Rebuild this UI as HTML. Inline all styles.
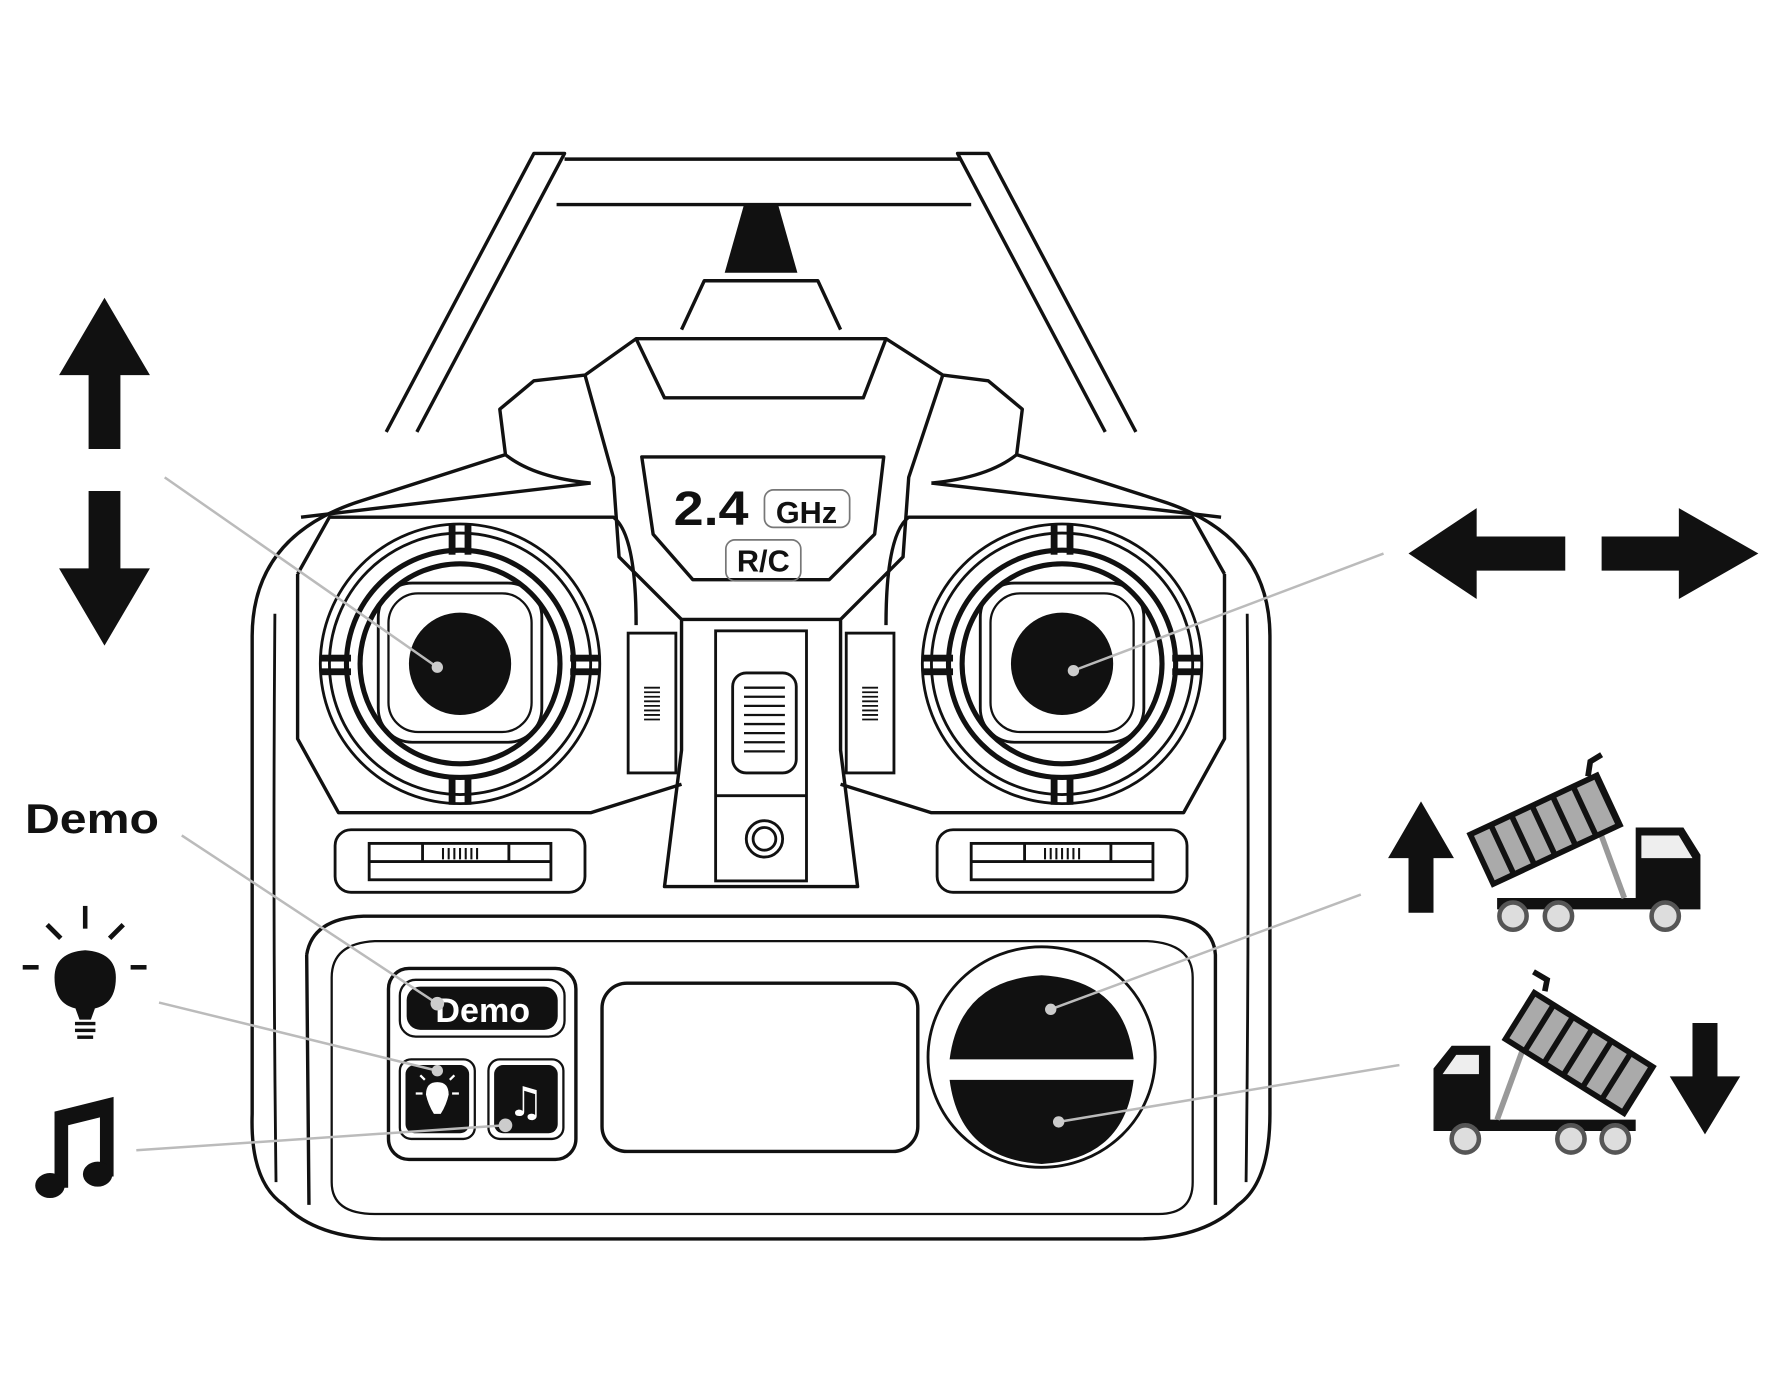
<!DOCTYPE html>
<html><head><meta charset="utf-8"><style>html,body{margin:0;padding:0;background:#fff}svg{display:block}</style></head><body>
<svg width="1772" height="1389" viewBox="0 0 1560 1222" preserveAspectRatio="none" xmlns="http://www.w3.org/2000/svg">
<rect width="1560" height="1222" fill="#fff"/>
<g fill="none" stroke="#111" stroke-width="3" stroke-linejoin="round">
<path d="M340 380 L470 135 L497 135 L367 380"/>
<path d="M1000 380 L870 135 L843 135 L973 380"/>
<path d="M497 140 L845 140 M490 180 L855 180"/>
<path d="M600 290 L620 247 L720 247 L740 290"/>
<path d="M250 1060 Q220 1040 222 980 L222 560 Q222 470 320 440 L445 400 L440 360 L470 335 L515 330 L560 298 L780 298 L830 330 L870 335 L900 360 L895 400 L1020 440 Q1118 470 1118 560 L1118 980 Q1118 1040 1090 1060 Q1060 1090 1000 1090 L340 1090 Q280 1090 250 1060 Z"/>
<path d="M243 1040 Q240 800 242 540" stroke-width="2.5"/>
<path d="M1097 1040 Q1100 800 1098 540" stroke-width="2.5"/>
<path d="M445 400 Q470 420 520 425 M895 400 Q870 420 820 425"/>
<path d="M265 455 L520 425 M1075 455 L820 425"/>
<path d="M515 330 L540 420 L545 490 L600 545 L600 660 L585 780 L755 780 L740 660 L740 545 L795 490 L800 420 L830 330"/>
<path d="M560 298 L585 350 L760 350 L780 298"/>
<path d="M565 402 L778 402 L770 470 L730 510 L610 510 L575 470 Z"/>
<path d="M600 545 L740 545"/>
<path d="M262 505 L290 455 L540 455 Q560 470 560 550 M262 505 L262 650 L298 715 L520 715 L600 690"/>
<path d="M1078 505 L1050 455 L800 455 Q780 470 780 550 M1078 505 L1078 650 L1042 715 L820 715 L740 690"/>
<path d="M270 840 Q275 808 320 806 L1020 806 Q1068 808 1070 840 L1070 1060 M270 840 L272 1060"/>
<path d="M292 860 Q292 830 330 828 L1010 828 Q1050 830 1050 860 L1050 1040 Q1050 1068 1020 1068 L330 1068 Q292 1068 292 1040 Z" stroke-width="2"/>
<rect x="530" y="865" width="278" height="148" rx="22"/>
<rect x="342" y="852" width="165" height="168" rx="18"/>
</g>
<path d="M655 180 L685 180 L702 240 L638 240 Z" fill="#111"/>
<g id="js">
<g fill="none" stroke="#111">
<circle cx="405" cy="584" r="123" stroke-width="2.5"/>
<circle cx="405" cy="584" r="115" stroke-width="2.5"/>
<circle cx="405" cy="584" r="100" stroke-width="4.5"/>
<circle cx="405" cy="584" r="88" stroke-width="4.5"/>
<rect x="333" y="513" width="144" height="140" rx="30" stroke-width="2.5"/>
<rect x="342" y="522" width="126" height="122" rx="26" stroke-width="2"/>
</g>
<rect x="395" y="462" width="6" height="26" fill="#111"/><rect x="409" y="462" width="6" height="26" fill="#111"/>
<rect x="395" y="682" width="6" height="26" fill="#111"/><rect x="409" y="682" width="6" height="26" fill="#111"/>
<rect x="283" y="576" width="26" height="6" fill="#111"/><rect x="283" y="588" width="26" height="6" fill="#111"/>
<rect x="502" y="576" width="26" height="6" fill="#111"/><rect x="502" y="588" width="26" height="6" fill="#111"/>
<circle cx="405" cy="584" r="45" fill="#111"/>
</g>
<use href="#js" transform="translate(530,0)"/>
<g id="tr" fill="none" stroke="#111" stroke-width="2.5">
<rect x="295" y="730" width="220" height="55" rx="14"/>
<rect x="325" y="742" width="160" height="32"/>
<path d="M325 758 L485 758 M372 742 L372 758 M448 742 L448 758"/>
<path d="M390 746v10M395 746v10M400 746v10M405 746v10M410 746v10M415 746v10M420 746v10" stroke-width="1.8"/>
</g>
<use href="#tr" transform="translate(530,0)"/>
<g fill="none" stroke="#111" stroke-width="2.5">
<rect x="553" y="557" width="42" height="123"/>
<rect x="745" y="557" width="42" height="123"/>
<path d="M567 605h14M567 609h14M567 613h14M567 617h14M567 621h14M567 625h14M567 629h14M567 633h14M759 605h14M759 609h14M759 613h14M759 617h14M759 621h14M759 625h14M759 629h14M759 633h14" stroke-width="1.6"/>
<rect x="630" y="555" width="80" height="220"/>
<rect x="645" y="592" width="56" height="88" rx="12"/>
<path d="M655 605h36M655 613h36M655 621h36M655 629h36M655 637h36M655 645h36M655 653h36M655 661h36" stroke-width="2"/>
<path d="M630 700 L710 700"/>
<circle cx="673" cy="738" r="16"/><circle cx="673" cy="738" r="10"/>
</g>
<rect x="352" y="862" width="145" height="50" rx="14" fill="none" stroke="#111" stroke-width="2"/>
<rect x="358" y="868" width="133" height="38" rx="12" fill="#111"/>
<text x="425" y="899" font-family="Liberation Sans, sans-serif" font-weight="bold" font-size="30" fill="#fff" text-anchor="middle">Demo</text>
<rect x="352" y="932" width="66" height="70" rx="10" fill="none" stroke="#111" stroke-width="2"/>
<rect x="357" y="937" width="56" height="60" rx="8" fill="#111"/>
<rect x="430" y="932" width="66" height="70" rx="10" fill="none" stroke="#111" stroke-width="2"/>
<rect x="435" y="937" width="56" height="60" rx="8" fill="#111"/>
<path d="M385 952 Q395 952 395 963 Q393 972 388 980 L382 980 Q377 972 375 963 Q375 952 385 952Z" fill="#fff"/>
<path d="M372 962h-6M398 962h6M374 950l-4-4M396 950l4-4" stroke="#fff" stroke-width="2"/>
<text x="463" y="982" font-family="DejaVu Sans, sans-serif" font-size="36" fill="#fff" text-anchor="middle">♫</text>
<ellipse cx="917" cy="930" rx="100" ry="97" fill="none" stroke="#111" stroke-width="2.5"/>
<path d="M836 932 Q845 862 917 858 Q990 862 998 932 Z" fill="#111"/>
<path d="M836 950 L998 950 Q990 1020 917 1024 Q845 1020 836 950 Z" fill="#111"/>
<rect x="830" y="940" width="174" height="6" fill="#fff"/>
<text x="593" y="462" font-family="Liberation Sans, sans-serif" font-weight="bold" font-size="42" fill="#111" textLength="66" lengthAdjust="spacingAndGlyphs">2.4</text>
<rect x="673" y="431" width="75" height="33" rx="8" fill="none" stroke="#777" stroke-width="1.5"/>
<text x="710" y="460" font-family="Liberation Sans, sans-serif" font-weight="bold" font-size="27" fill="#111" text-anchor="middle">GHz</text>
<rect x="639" y="475" width="66" height="36" rx="8" fill="none" stroke="#777" stroke-width="1.5"/>
<text x="672" y="503" font-family="Liberation Sans, sans-serif" font-weight="bold" font-size="27" fill="#111" text-anchor="middle">R/C</text>
<text x="22" y="733" font-family="Liberation Sans, sans-serif" font-weight="bold" font-size="37" fill="#111" textLength="118" lengthAdjust="spacingAndGlyphs">Demo</text>
<g fill="#111">
<path d="M52 330 L92 262 L132 330 L106 330 L106 395 L78 395 L78 330Z"/>
<path d="M78 432 L106 432 L106 500 L132 500 L92 568 L52 500 L78 500Z"/>
<path d="M1240 487 L1300 447 L1300 472 L1378 472 L1378 502 L1300 502 L1300 527Z"/>
<path d="M1548 487 L1478 447 L1478 472 L1410 472 L1410 502 L1478 502 L1478 527Z"/>
<path d="M1222 755 L1251 705 L1280 755 L1262 755 L1262 803 L1240 803 L1240 755Z"/>
<path d="M1490 900 L1512 900 L1512 947 L1532 947 L1501 998 L1470 947 L1490 947Z"/>
<path d="M75 888 Q48 888 48 860 Q48 838 75 836 Q102 838 102 860 Q102 888 75 888Z M62 875 L88 875 L80 897 L70 897Z"/>
<rect x="66" y="899" width="18" height="3"/><rect x="66" y="905" width="18" height="3"/><rect x="68" y="911" width="14" height="3"/>
<rect x="73" y="797" width="4" height="20"/><rect x="20" y="849" width="14" height="4"/><rect x="115" y="849" width="14" height="4"/>
<path d="M40 815 l3-3 12 12 -3 3Z M110 815 l-3-3 -12 12 3 3Z"/>
<path d="M48 978 L100 965 L100 1035 L88 1035 L88 983 L60 990 L60 1045 L48 1045Z"/>
<ellipse cx="44" cy="1043" rx="13" ry="11"/>
<ellipse cx="86" cy="1033" rx="13" ry="11"/>
</g>
<g stroke="#bbb" stroke-width="2.2" fill="none">
<path d="M145 420 L385 587"/><path d="M1218 487 L945 590"/>
<path d="M160 735 L385 883"/><path d="M140 882 L385 942"/>
<path d="M120 1012 L445 990"/><path d="M1198 787 L925 888"/><path d="M1232 937 L932 987"/>
</g>
<g fill="#ccc"><circle cx="385" cy="587" r="5"/><circle cx="945" cy="590" r="5"/><circle cx="385" cy="883" r="6"/><circle cx="385" cy="942" r="5"/><circle cx="445" cy="990" r="6"/><circle cx="925" cy="888" r="5"/><circle cx="932" cy="987" r="5"/></g>
<g>
<path d="M1318 790 L1497 790 L1497 800 L1318 800Z M1440 728 L1482 728 L1497 752 L1497 800 L1440 800Z" fill="#111"/>
<path d="M1445 735 L1478 735 L1490 755 L1445 755Z" fill="#eee"/>
<path d="M1409 733 L1430 790" stroke="#999" stroke-width="5"/>
<g transform="translate(1291,733) rotate(-25)"><rect x="0" y="0" width="128" height="53" fill="#111"/>
<g fill="#aaa"><rect x="5" y="5" width="15" height="43"/><rect x="25" y="5" width="15" height="43"/><rect x="45" y="5" width="15" height="43"/><rect x="65" y="5" width="15" height="43"/><rect x="85" y="5" width="15" height="43"/><rect x="105" y="5" width="17" height="43"/></g></g>
<path d="M1398 683 L1400 670 L1410 664" stroke="#111" stroke-width="5" fill="none"/>
<g fill="#ddd" stroke="#555" stroke-width="4"><circle cx="1332" cy="806" r="12"/><circle cx="1372" cy="806" r="12"/><circle cx="1466" cy="806" r="12"/></g>
</g>
<g>
<path d="M1262 985 L1440 985 L1440 995 L1262 995Z M1262 940 L1278 920 L1312 920 L1312 995 L1262 995Z" fill="#111"/>
<path d="M1270 945 L1282 928 L1302 928 L1302 945Z" fill="#eee"/>
<path d="M1340 925 L1318 985" stroke="#999" stroke-width="5"/>
<g transform="translate(1350,870) rotate(32)"><rect x="0" y="0" width="128" height="53" fill="#111"/>
<g fill="#aaa"><rect x="5" y="5" width="15" height="43"/><rect x="25" y="5" width="15" height="43"/><rect x="45" y="5" width="15" height="43"/><rect x="65" y="5" width="15" height="43"/><rect x="85" y="5" width="15" height="43"/><rect x="105" y="5" width="17" height="43"/></g></g>
<path d="M1360 872 L1362 862 L1350 855" stroke="#111" stroke-width="5" fill="none"/>
<g fill="#ddd" stroke="#555" stroke-width="4"><circle cx="1290" cy="1002" r="12"/><circle cx="1383" cy="1002" r="12"/><circle cx="1422" cy="1002" r="12"/></g>
</g>
</svg>
</body></html>
